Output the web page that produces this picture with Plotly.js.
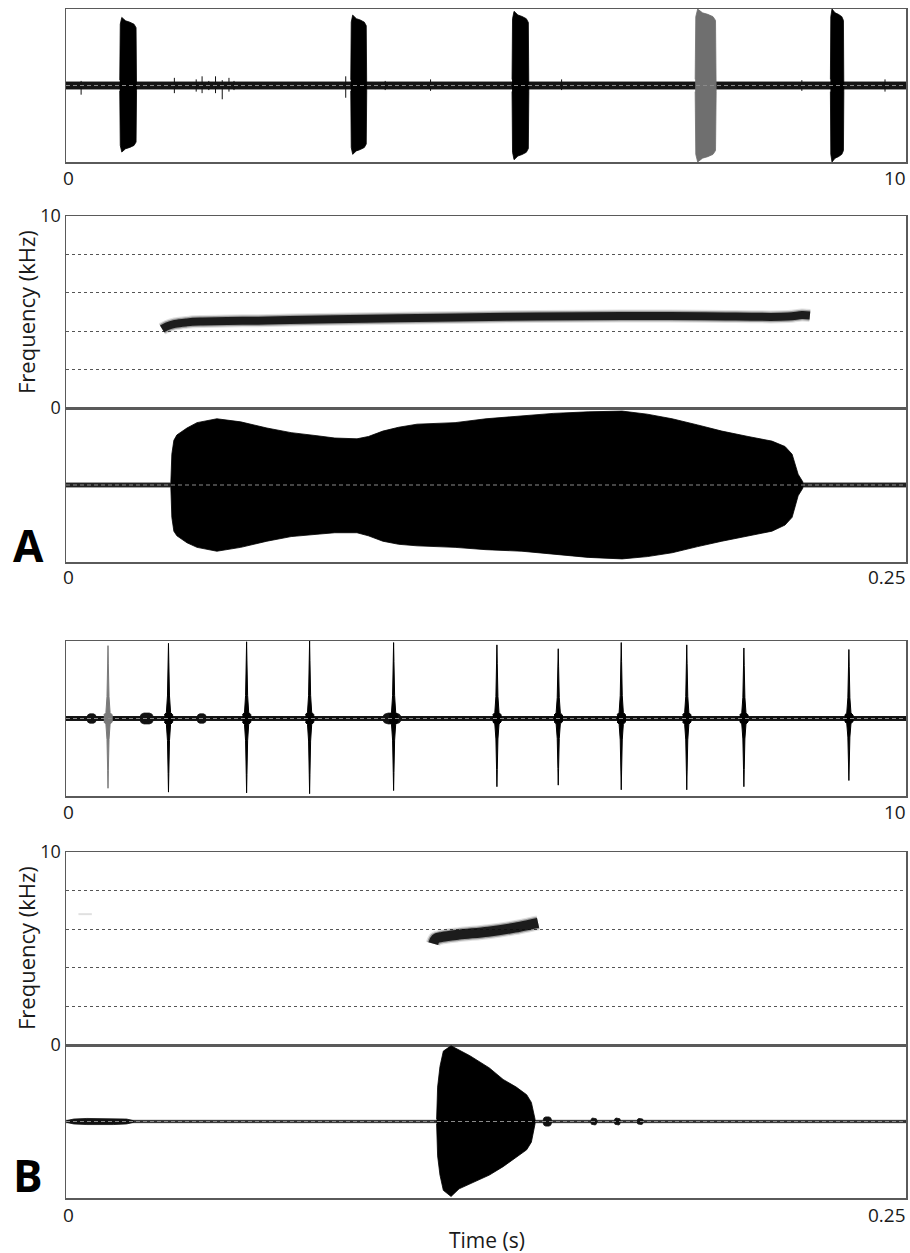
<!DOCTYPE html>
<html>
<head>
<meta charset="utf-8">
<script src="https://cdn.plot.ly/plotly-3.0.1.min.js"></script>
<style>html,body{margin:0;padding:0;background:#fff;}#chart{width:910px;height:1253px;}</style>
</head>
<body>
<div id="chart"></div>
<script>
// ---------------- DATA ----------------
// Panel A overview oscillogram (0–10 s): call bursts
const aOvBurstStart = [0.64, 3.39, 5.31, 7.49, 9.10];
const aOvBurstEnd   = [0.84, 3.58, 5.51, 7.74, 9.26];
const aOvBurstUp    = [0.89, 0.92, 0.97, 1.00, 1.00];
const aOvBurstDown  = [0.87, 0.90, 0.97, 1.00, 1.00];
const aOvHighlight  = 3;               // burst shown in gray (the one expanded below)
const aOvBaseNoise  = 0.045;
// small noise spikes on the baseline, panel A overview
const aOvSpikeT    = [0.18, 1.29, 1.55, 1.62, 1.70, 1.78, 1.86, 1.94, 2.00, 3.33, 3.80, 4.34, 5.90, 8.76, 9.75];
const aOvSpikeUp   = [0.06, 0.10, 0.08, 0.12, 0.06, 0.12, 0.07, 0.10, 0.06, 0.12, 0.06, 0.08, 0.08, 0.07, 0.08];
const aOvSpikeDown = [0.12, 0.10, 0.08, 0.10, 0.06, 0.10, 0.18, 0.08, 0.06, 0.16, 0.06, 0.07, 0.06, 0.07, 0.08];

// Panel A spectrogram (kHz vs s)
const aSpecT = [0.0286, 0.0300, 0.0324, 0.0360, 0.0399, 0.0600, 0.0795, 0.1158, 0.1400, 0.1655, 0.1900, 0.2149, 0.2190, 0.2214];
const aSpecF = [4.12,   4.25,   4.38,   4.46,   4.50,   4.56,   4.62,   4.72,   4.76,   4.79,   4.78,   4.76,   4.84,   4.82];

// Panel A detail oscillogram envelope (normalised amplitude)
const aDetT    = [0.0312, 0.0315, 0.0321, 0.0330, 0.0360, 0.0390, 0.0449, 0.0520, 0.0598, 0.0670, 0.0747, 0.0800, 0.0866, 0.0900, 0.0943, 0.0990, 0.1045, 0.1158, 0.1250, 0.1357, 0.1450, 0.1554, 0.1655, 0.1730, 0.1804, 0.1880, 0.1952, 0.2030, 0.2101, 0.2140, 0.2161, 0.2179, 0.2193];
const aDetUp   = [0.03,   0.40,   0.58,   0.65,   0.74,   0.81,   0.86,   0.82,   0.74,   0.68,   0.64,   0.61,   0.60,   0.63,   0.70,   0.75,   0.79,   0.81,   0.86,   0.90,   0.93,   0.95,   0.96,   0.92,   0.86,   0.78,   0.70,   0.63,   0.57,   0.50,   0.40,   0.14,   0.04];
const aDetDown = [0.03,   0.42,   0.60,   0.66,   0.75,   0.81,   0.86,   0.81,   0.73,   0.67,   0.64,   0.62,   0.62,   0.66,   0.73,   0.77,   0.79,   0.81,   0.84,   0.86,   0.90,   0.94,   0.96,   0.93,   0.88,   0.80,   0.73,   0.66,   0.60,   0.52,   0.42,   0.14,   0.04];
const aDetNoise = 0.025;

// Panel B overview oscillogram (0–10 s): clicks
const bOvSpikeT    = [0.50, 1.22, 2.15, 2.90, 3.90, 5.13, 5.86, 6.61, 7.39, 8.07, 9.32];
const bOvSpikeUp   = [0.94, 0.97, 0.99, 1.00, 0.98, 0.95, 0.90, 0.98, 0.95, 0.91, 0.89];
const bOvSpikeDown = [0.90, 0.95, 0.96, 0.97, 0.93, 0.88, 0.86, 0.92, 0.92, 0.88, 0.80];
const bOvHighlight = 0;
const bOvBaseNoise = 0.025;
const bOvBlobStart = [0.25, 0.88, 1.56, 3.77];
const bOvBlobEnd   = [0.36, 1.04, 1.67, 3.99];
const bOvBlobAmp   = [0.06, 0.07, 0.06, 0.07];

// Panel B spectrogram
const bSpecT = [0.1093, 0.1100, 0.1120, 0.1170, 0.1256, 0.1336, 0.1384, 0.1405];
const bSpecF = [5.25,   5.50,   5.60,   5.72,   5.87,   6.08,   6.25,   6.33];
const bFaintT = [0.0037, 0.0077];
const bFaintF = [6.78, 6.78];

// Panel B detail oscillogram envelope
const bDetT    = [0.1103, 0.1106, 0.1113, 0.1123, 0.1146, 0.1170, 0.1202, 0.1260, 0.1301, 0.1340, 0.1371, 0.1385, 0.1390, 0.1396];
const bDetUp   = [0.03,   0.45,   0.72,   0.92,   0.99,   0.93,   0.86,   0.70,   0.55,   0.45,   0.35,   0.25,   0.13,   0.03];
const bDetDown = [0.03,   0.45,   0.70,   0.90,   0.98,   0.88,   0.81,   0.70,   0.59,   0.47,   0.37,   0.27,   0.15,   0.03];
const bDetBaseNoise = 0.015;
const bDetBlobStart = [0.0003, 0.1420, 0.1562, 0.1632, 0.1700];
const bDetBlobEnd   = [0.0200, 0.1445, 0.1580, 0.1650, 0.1718];
const bDetBlobAmp   = [0.04,   0.06,   0.045,  0.045,  0.04];

// Tick labels and titles
const overviewTickVals = [0, 10];
const overviewTickText = ['0', '10'];
const detailTickVals = [0, 0.25];
const detailTickText = ['0', '0.25'];
const freqTickVals = [0, 10];
const freqTickText = ['0', '10'];
const freqGridVals = [2, 4, 6, 8];
const freqTitle = 'Frequency (kHz)';
const timeTitle = 'Time (s)';
const panelLetters = ['A', 'B'];

// shape templates (relative position / relative amplitude)
const burstShapeU = [0, 0.03, 0.12, 0.35, 0.6, 0.85, 0.97, 1];
const burstShapeA = [0.08, 0.9, 1, 0.95, 0.93, 0.9, 0.85, 0.08];
const spikeShapeDt = [-0.05, -0.025, -0.012, -0.004, 0, 0.004, 0.012, 0.025, 0.05];
const spikeShapeA  = [0.05, 0.08, 0.3, 0.75, 1, 0.75, 0.3, 0.08, 0.05];
const blobShapeU = [0, 0.1, 0.3, 0.7, 0.9, 1];
const blobShapeA = [0.3, 0.8, 1, 1, 0.8, 0.3];

// ---------------- BUILD ----------------
const FONT = '"Open Sans", "Noto Sans", "DejaVu Sans", sans-serif';
const traces = [];
function envelope(t, up, down, xa, ya, color, lw) {
  const x = t.concat(t.slice().reverse());
  const y = up.concat(down.map(v => -v).reverse());
  traces.push({type: 'scatter', mode: 'lines', x: x, y: y, xaxis: xa, yaxis: ya,
    fill: 'toself', fillcolor: color, line: {color: color, width: lw || 0.5},
    hoverinfo: 'skip', showlegend: false});
}
function band(xmax, a, xa, ya, color) {
  envelope([0, xmax], [a, a], [a, a], xa, ya, color, 1);
}
function blobs(starts, ends, amps, xa, ya, color) {
  starts.forEach((s, i) => {
    const t = blobShapeU.map(u => s + u * (ends[i] - s));
    const a = blobShapeA.map(v => v * amps[i]);
    envelope(t, a, a, xa, ya, color, 0.8);
  });
}
function sticks(t, up, down, xa, ya, color) {
  const x = [], y = [];
  t.forEach((v, i) => { x.push(v, v, null); y.push(up[i], -down[i], null); });
  traces.push({type: 'scatter', mode: 'lines', x: x, y: y, xaxis: xa, yaxis: ya,
    line: {color: color, width: 1}, hoverinfo: 'skip', showlegend: false});
}
function centerDash(xa, ya, xmax) {
  traces.push({type: 'scatter', mode: 'lines', x: [0, xmax], y: [0, 0], xaxis: xa, yaxis: ya,
    line: {color: '#8a8a8a', width: 1, dash: '4px,3px'}, hoverinfo: 'skip', showlegend: false});
}
function specTrace(t, f, xa, ya, core, halo) {
  traces.push({type: 'scatter', mode: 'lines', x: t, y: f, xaxis: xa, yaxis: ya,
    line: {color: 'rgba(0,0,0,0.12)', width: halo, shape: 'spline'}, hoverinfo: 'skip', showlegend: false});
  traces.push({type: 'scatter', mode: 'lines', x: t, y: f, xaxis: xa, yaxis: ya,
    line: {color: 'rgba(0,0,0,0.3)', width: (core + halo) / 2, shape: 'spline'}, hoverinfo: 'skip', showlegend: false});
  traces.push({type: 'scatter', mode: 'lines', x: t, y: f, xaxis: xa, yaxis: ya,
    line: {color: 'rgba(10,10,10,0.88)', width: core, shape: 'spline'}, hoverinfo: 'skip', showlegend: false});
}

// Panel 1: A overview
band(10, aOvBaseNoise, 'x', 'y', '#151515');
sticks(aOvSpikeT, aOvSpikeUp, aOvSpikeDown, 'x', 'y', '#111');
aOvBurstStart.forEach((s, i) => {
  const e = aOvBurstEnd[i];
  const t = burstShapeU.map(u => s + u * (e - s));
  const up = burstShapeA.map(a => a * aOvBurstUp[i]);
  const dn = burstShapeA.map(a => a * aOvBurstDown[i]);
  envelope(t, up, dn, 'x', 'y', i === aOvHighlight ? '#6f6f6f' : '#000', 0.8);
});
centerDash('x', 'y', 10);

// Panel 2: A spectrogram
specTrace(aSpecT, aSpecF, 'x2', 'y2', 8, 13);

// Panel 3: A detail oscillogram
band(0.25, aDetNoise, 'x3', 'y3', '#222');
envelope(aDetT, aDetUp, aDetDown, 'x3', 'y3', '#000', 0.8);
centerDash('x3', 'y3', 0.25);

// Panel 4: B overview
band(10, bOvBaseNoise, 'x4', 'y4', '#111');
blobs(bOvBlobStart, bOvBlobEnd, bOvBlobAmp, 'x4', 'y4', '#111');
bOvSpikeT.forEach((c, i) => {
  const t = spikeShapeDt.map(d => c + d);
  const up = spikeShapeA.map(a => a * bOvSpikeUp[i]);
  const dn = spikeShapeA.map(a => a * bOvSpikeDown[i]);
  envelope(t, up, dn, 'x4', 'y4', i === bOvHighlight ? '#7a7a7a' : '#000', 1);
});
centerDash('x4', 'y4', 10);

// Panel 5: B spectrogram
traces.push({type: 'scatter', mode: 'lines', x: bFaintT, y: bFaintF, xaxis: 'x5', yaxis: 'y5',
  line: {color: 'rgba(0,0,0,0.12)', width: 2}, hoverinfo: 'skip', showlegend: false});
specTrace(bSpecT, bSpecF, 'x5', 'y5', 10, 15);

// Panel 6: B detail oscillogram
band(0.25, bDetBaseNoise, 'x6', 'y6', '#333');
blobs(bDetBlobStart, bDetBlobEnd, bDetBlobAmp, 'x6', 'y6', '#111');
envelope(bDetT, bDetUp, bDetDown, 'x6', 'y6', '#000', 0.8);
centerDash('x6', 'y6', 0.25);

// ---------------- LAYOUT ----------------
const W = 910, H = 1253;
const px = v => v / W;
const py = v => 1 - v / H;
const xDom = [px(66), px(906)];
const frame = {showgrid: false, zeroline: false, showline: true, mirror: true,
  linecolor: '#5a5a5a', linewidth: 1.5, ticks: '', showticklabels: false, fixedrange: true};

function yFreq(dom, anchor) {
  return Object.assign({}, frame, {domain: dom, anchor: anchor, range: [0, 10],
    showticklabels: true, tickmode: 'array', tickvals: freqTickVals, ticktext: freqTickText,
    tickfont: {family: FONT, size: 18, color: '#1a1a1a'},
    minor: {tickmode: 'array', tickvals: freqGridVals, showgrid: true, gridcolor: '#555',
      griddash: 'dot', gridwidth: 1, ticks: ''}});
}
function yOsc(dom, anchor) {
  return Object.assign({}, frame, {domain: dom, anchor: anchor, range: [-1, 1]});
}

const layout = {
  width: W, height: H, margin: {l: 0, r: 0, t: 0, b: 0},
  paper_bgcolor: '#fff', plot_bgcolor: '#fff', showlegend: false,
  font: {family: FONT, color: '#1a1a1a'},
  xaxis:  Object.assign({}, frame, {domain: xDom, anchor: 'y',  range: [0, 10]}),
  yaxis:  yOsc([py(162), py(9)], 'x'),
  xaxis2: Object.assign({}, frame, {domain: xDom, anchor: 'y2', range: [0, 0.25]}),
  yaxis2: yFreq([py(408), py(216)], 'x2'),
  xaxis3: Object.assign({}, frame, {domain: xDom, anchor: 'y3', range: [0, 0.25]}),
  yaxis3: yOsc([py(562), py(408)], 'x3'),
  xaxis4: Object.assign({}, frame, {domain: xDom, anchor: 'y4', range: [0, 10]}),
  yaxis4: yOsc([py(796), py(641)], 'x4'),
  xaxis5: Object.assign({}, frame, {domain: xDom, anchor: 'y5', range: [0, 0.25]}),
  yaxis5: yFreq([py(1045), py(852)], 'x5'),
  xaxis6: Object.assign({}, frame, {domain: xDom, anchor: 'y6', range: [0, 0.25]}),
  yaxis6: yOsc([py(1198), py(1045)], 'x6'),
  annotations: []
};

function xLabels(xa, vals, texts, yPix) {
  vals.forEach((v, i) => {
    layout.annotations.push({xref: xa, yref: 'paper', x: v, y: py(yPix), text: texts[i],
      showarrow: false, xanchor: i === vals.length - 1 ? 'right' : 'center', yanchor: 'middle',
      xshift: 2, font: {family: FONT, size: 19, color: '#1a1a1a'}});
  });
}
xLabels('x',  overviewTickVals, overviewTickText, 178);
xLabels('x3', detailTickVals,   detailTickText,   577);
xLabels('x4', overviewTickVals, overviewTickText, 812);
xLabels('x6', detailTickVals,   detailTickText,   1215);

[312, 948].forEach(yc => {
  layout.annotations.push({xref: 'paper', yref: 'paper', x: px(26), y: py(yc), text: freqTitle,
    textangle: -90, showarrow: false, xanchor: 'center', yanchor: 'middle',
    font: {family: FONT, size: 22, color: '#1a1a1a'}});
});
layout.annotations.push({xref: 'paper', yref: 'paper', x: px(487), y: py(1240), text: timeTitle,
  showarrow: false, xanchor: 'center', yanchor: 'middle',
  font: {family: FONT, size: 21, color: '#1a1a1a'}});
[[545, 0], [1175, 1]].forEach(([yc, i]) => {
  layout.annotations.push({xref: 'paper', yref: 'paper', x: px(28), y: py(yc), text: '<b>' + panelLetters[i] + '</b>',
    showarrow: false, xanchor: 'center', yanchor: 'middle',
    font: {family: '"Open Sans", "DejaVu Sans", sans-serif', size: 44, color: '#000'}});
});

Plotly.newPlot('chart', traces, layout, {staticPlot: true, displayModeBar: false});
</script>
</body>
</html>
